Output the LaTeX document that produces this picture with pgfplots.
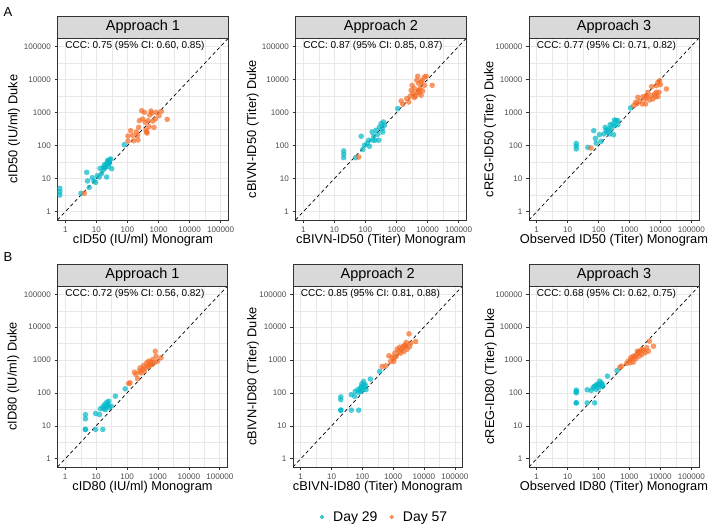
\documentclass[border=0pt]{standalone}
\usepackage{pgfplots}
\pgfplotsset{compat=1.18}
\usepackage{fontspec}
\setmainfont{Liberation Sans}
\definecolor{tealc}{RGB}{0,184,200}
\definecolor{orangec}{RGB}{246,108,38}
\definecolor{gridc}{RGB}{232,232,232}
\definecolor{gray20}{RGB}{51,51,51}
\definecolor{gray30}{RGB}{77,77,77}
\definecolor{stripc}{RGB}{217,217,217}
\pgfplotsset{
  myaxis/.style={
    scale only axis,
    xmin=0.5623, xmax=177828, ymin=0.5623, ymax=177828,
    xtick={1,10,100,1000,10000,100000}, ytick={1,10,100,1000,10000,100000},
    xticklabels={1,10,100,1000,10000,100000}, yticklabels={1,10,100,1000,10000,100000},
    minor xtick={3.1623,31.623,316.23,3162.3,31623},
    minor ytick={3.1623,31.623,316.23,3162.3,31623},
    grid=both,
    major grid style={draw=gridc, line width=0.6pt},
    minor grid style={draw=gridc, line width=0.3pt},
    axis line style={draw=gray20, line width=0.7pt},
    tick align=outside, xtick pos=left, ytick pos=left,
    major tick length=3pt, minor tick length=0pt,
    major tick style={draw=gray20, line width=0.6pt},
    tick label style={font=\fontsize{8.1}{9}\selectfont, text=gray30},
  },
  tealpts/.style={only marks, mark=*, mark size=2.8pt, color=tealc, mark options={fill=tealc, draw opacity=0, fill opacity=0.7}, forget plot},
  orpts/.style={only marks, mark=*, mark size=2.8pt, color=orangec, mark options={fill=orangec, draw opacity=0, fill opacity=0.7}, forget plot},
  diagline/.style={black, line width=0.7pt, dash pattern=on 3.5pt off 2.8pt, forget plot},
}
\newcommand{\ccc}[1]{\node[anchor=west, inner sep=0pt, font=\fontsize{10}{12}\selectfont] at (axis cs:1,100000) {#1};}
\newcommand{\strip}[2]{%
  \draw[fill=stripc, draw=gray20, line width=0.7pt] (#1.north west) rectangle ([yshift=22pt]#1.north east);
  \node[font=\fontsize{14.5}{16}\selectfont] at ([yshift=11pt]#1.north) {#2};}
\begin{document}
\begin{tikzpicture}
\path[use as bounding box] (0pt,0pt) rectangle (720pt,531pt);
% ---------------- Panel 1
\begin{axis}[xmode=log, ymode=log, myaxis, name=p1, at={(57.5pt,311pt)}, anchor=south west, width=171pt, height=182pt,
  xlabel={cID50 (IU/ml) Monogram}, ylabel={cID50 (IU/ml) Duke},
  every axis x label/.style={at={(axis description cs:0.5,-0.11)}, anchor=center, font=\fontsize{12.8}{14}\selectfont},
  every axis y label/.style={at={(axis description cs:-0.254,0.5)}, rotate=90, anchor=center, font=\fontsize{12.8}{14}\selectfont}]
\addplot[tealpts] coordinates {(0.67,5.1)(0.67,4.0)(0.67,3.2)(3.2,3.6)(4.9,15.5)(5.2,8.5)(5.9,5.4)(7.4,10.7)(8.4,8.5)(9.5,7.7)(10.7,12.3)(12.4,11.2)(13.1,20.4)(14.8,14.4)(16.7,18.6)(18,26.4)(20.4,25.2)(21.4,11.2)(23,35.7)(24.2,23)(26.1,28.9)(28.8,39.2)(31,20)(22,30)(25,33)(19,21)(27,37)(17,22)(79,106)};
\addplot[orpts] coordinates {(4.1,3.6)(104,194)(104,137)(147,203)(127,282)(158,140)(213,203)(218,147)(229,355)(241,565)(286,1130)(349,1009)(376,503)(395,295)(425,239)(458,565)(493,372)(518,838)(572,1107)(616,963)(646,550)(714,355)(789,633)(849,1009)(1035,800)(1230,1082)(1900,620)(415,257)(193,257)(308,633)};
\addplot[diagline] coordinates {(0.5623,0.5623)(177828,177828)};
\ccc{CCC: 0.75 (95\% CI: 0.60, 0.85)}
\end{axis}
\strip{p1}{Approach 1}
% ---------------- Panel 2
\begin{axis}[xmode=log, ymode=log, myaxis, name=p2, at={(295.5pt,311pt)}, anchor=south west, width=171pt, height=182pt,
  xlabel={cBIVN-ID50 (Titer) Monogram}, ylabel={cBIVN-ID50 (Titer) Duke},
  every axis x label/.style={at={(axis description cs:0.5,-0.11)}, anchor=center, font=\fontsize{12.8}{14}\selectfont},
  every axis y label/.style={at={(axis description cs:-0.25,0.5)}, rotate=90, anchor=center, font=\fontsize{12.8}{14}\selectfont}]
\addplot[tealpts] coordinates {(20,69)(20,55)(20,43)(48,43)(73,191)(82,76)(93,102)(134,95)(128,145)(164,257)(185,191)(220,290)(248,219)(268,145)(320,460)(344,324)(379,515)(408,409)(360,257)(113,115)(205,145)(282,363)(172,145)(1094,1312)};
\addplot[orpts] coordinates {(61,45)(1406,2223)(1585,1770)(2130,2630)(2470,2075)(2735,3090)(3180,6610)(3310,3720)(3760,5250)(4050,3090)(4470,9400)(4800,12400)(5190,7460)(5450,3890)(6170,3310)(6650,9400)(7890,11770)(8920,12400)(7890,6610)(13960,6610)(3760,2820)(2950,4680)(6170,8320)(5750,5250)(6920,4470)(5190,4680)(4470,3890)};
\addplot[diagline] coordinates {(0.5623,0.5623)(177828,177828)};
\ccc{CCC: 0.87 (95\% CI: 0.85, 0.87)}
\end{axis}
\strip{p2}{Approach 2}
% ---------------- Panel 3
\begin{axis}[xmode=log, ymode=log, myaxis, name=p3, at={(529pt,311pt)}, anchor=south west, width=170pt, height=182pt,
  xlabel={Observed ID50 (Titer) Monogram}, ylabel={cREG-ID50 (Titer) Duke},
  every axis x label/.style={at={(axis description cs:0.5,-0.11)}, anchor=center, font=\fontsize{12.8}{14}\selectfont},
  every axis y label/.style={at={(axis description cs:-0.229,0.5)}, rotate=90, anchor=center, font=\fontsize{12.8}{14}\selectfont}]
\addplot[tealpts] coordinates {(19,116)(19,97)(19,79)(45,88)(70,281)(79,165)(84,119)(107,213)(121,134)(148,224)(164,355)(177,295)(214,317)(226,224)(238,427)(289,449)(305,213)(328,593)(372,565)(420,565)(328,398)(256,317)(420,427)(190,251)(1086,1366)};
\addplot[orpts] coordinates {(57,84)(1360,1600)(1578,2019)(1874,2864)(2128,2163)(2604,1806)(3093,2559)(3334,1806)(3672,2864)(3957,4055)(4496,2387)(5103,3220)(5754,2559)(6531,3630)(5224,6030)(7413,6460)(8356,8130)(9484,9120)(10000,6920)(15670,5130)(3510,3220)(2723,3000)(7030,3000)(8356,3000)(9016,4055)(1740,1806)(7413,4055)};
\addplot[diagline] coordinates {(0.5623,0.5623)(177828,177828)};
\ccc{CCC: 0.77 (95\% CI: 0.71, 0.82)}
\end{axis}
\strip{p3}{Approach 3}
% ---------------- Panel 4
\begin{axis}[xmode=log, ymode=log, myaxis, name=p4, at={(57.5pt,64pt)}, anchor=south west, width=170pt, height=181pt,
  xlabel={cID80 (IU/ml) Monogram}, ylabel={cID80 (IU/ml) Duke},
  every axis x label/.style={at={(axis description cs:0.5,-0.114)}, anchor=center, font=\fontsize{12.8}{14}\selectfont},
  every axis y label/.style={at={(axis description cs:-0.26,0.5)}, rotate=90, anchor=center, font=\fontsize{12.8}{14}\selectfont}]
\addplot[tealpts] coordinates {(4.5,22)(4.5,16.4)(4.5,7.8)(4.5,7.8)(9.6,23.8)(9.6,7.8)(12.9,22)(16.5,7.8)(13.6,33)(18.7,44.6)(22.2,52.5)(25.7,56)(30.7,39.5)(17.7,33)(21.2,39.5)(23.9,44.6)(27,35.4)(20,31.4)(16.5,37.9)(22.4,41.7)(42,80)(87,134)};
\addplot[orpts] coordinates {(113,194)(173,427)(220,269)(250,457)(320,515)(337,680)(430,822)(498,920)(594,859)(670,1036)(861,1306)(970,920)(818,1850)(1250,1167)(125,204)(195,363)(282,407)(390,576)(462,647)(550,727)(759,822)(263,576)(363,457)(525,647)(640,727)};
\addplot[diagline] coordinates {(0.5623,0.5623)(177828,177828)};
\ccc{CCC: 0.72 (95\% CI: 0.56, 0.82)}
\end{axis}
\strip{p4}{Approach 1}
% ---------------- Panel 5
\begin{axis}[xmode=log, ymode=log, myaxis, name=p5, at={(293pt,64pt)}, anchor=south west, width=169.5pt, height=181pt,
  xlabel={cBIVN-ID80 (Titer) Monogram}, ylabel={cBIVN-ID80 (Titer) Duke},
  every axis x label/.style={at={(axis description cs:0.5,-0.114)}, anchor=center, font=\fontsize{12.8}{14}\selectfont},
  every axis y label/.style={at={(axis description cs:-0.236,0.5)}, rotate=90, anchor=center, font=\fontsize{12.8}{14}\selectfont},
  legend style={at={(0.537,-0.276)}, anchor=center, draw=none, fill=none, legend columns=2,
    font=\fontsize{14}{16}\selectfont, /tikz/every even column/.append style={column sep=9pt}}]
\addplot[tealpts] coordinates {(20,76)(20,63)(20,30)(20,30)(44,89)(44,30)(76,30)(59,112)(56,79)(72,126)(86,141)(97,191)(119,158)(110,224)(131,126)(105,126)(90,112)(93,158)(76,105)(125,178)(182,264)(367,452)};
\addplot[orpts] coordinates {(437,640)(724,1350)(822,908)(1050,908)(1135,1620)(1350,2140)(1620,2455)(2075,2570)(2240,1820)(2400,2890)(2660,3410)(3260,6270)(3440,2570)(5370,3660)(577,671)(927,1230)(1535,1820)(1880,2140)(2870,2140)(1253,1290)(1740,1620)(1070,1150)(2510,2570)(3700,3270)};
\addplot[diagline] coordinates {(0.5623,0.5623)(177828,177828)};
\ccc{CCC: 0.85 (95\% CI: 0.81, 0.88)}
\addlegendimage{legend image code/.code={\path (-3pt,0pt) (9pt,0pt); \fill[tealc, fill opacity=0.7] (0pt,0pt) circle (1.8pt);}}
\addlegendentry{Day 29}
\addlegendimage{legend image code/.code={\path (-3pt,0pt) (9pt,0pt); \fill[orangec, fill opacity=0.7] (0pt,0pt) circle (1.8pt);}}
\addlegendentry{Day 57}
\end{axis}
\strip{p5}{Approach 2}
% ---------------- Panel 6
\begin{axis}[xmode=log, ymode=log, myaxis, name=p6, at={(529pt,64pt)}, anchor=south west, width=170pt, height=181pt,
  xlabel={Observed ID80 (Titer) Monogram}, ylabel={cREG-ID80 (Titer) Duke},
  every axis x label/.style={at={(axis description cs:0.5,-0.114)}, anchor=center, font=\fontsize{12.8}{14}\selectfont},
  every axis y label/.style={at={(axis description cs:-0.224,0.5)}, rotate=90, anchor=center, font=\fontsize{12.8}{14}\selectfont}]
\addplot[tealpts] coordinates {(19,122)(19,110)(19,101)(19,50)(19,50)(43,125)(58,119)(43,50)(75,50)(66,144)(80,161)(96,181)(109,229)(123,204)(103,144)(139,161)(85,128)(115,169)(89,182)(74,161)(132,182)(194,324)(400,480)};
\addplot[orpts] coordinates {(556,653)(490,605)(809,789)(914,926)(1040,828)(1180,1042)(1333,863)(1510,1260)(1720,1480)(1950,1660)(2200,1860)(2510,1480)(2820,2000)(3210,1660)(3630,2370)(4110,1860)(1620,1100)(1100,1175)(2090,1320)(1333,1320)(2510,2090)(1800,1860)(4440,3750)(6000,2630)};
\addplot[diagline] coordinates {(0.5623,0.5623)(177828,177828)};
\ccc{CCC: 0.68 (95\% CI: 0.62, 0.75)}
\end{axis}
\strip{p6}{Approach 3}
% panel tags
\node[anchor=center, font=\fontsize{13}{15}\selectfont] at (8pt,519pt) {A};
\node[anchor=center, font=\fontsize{13}{15}\selectfont] at (8pt,274pt) {B};
\end{tikzpicture}
\end{document}
